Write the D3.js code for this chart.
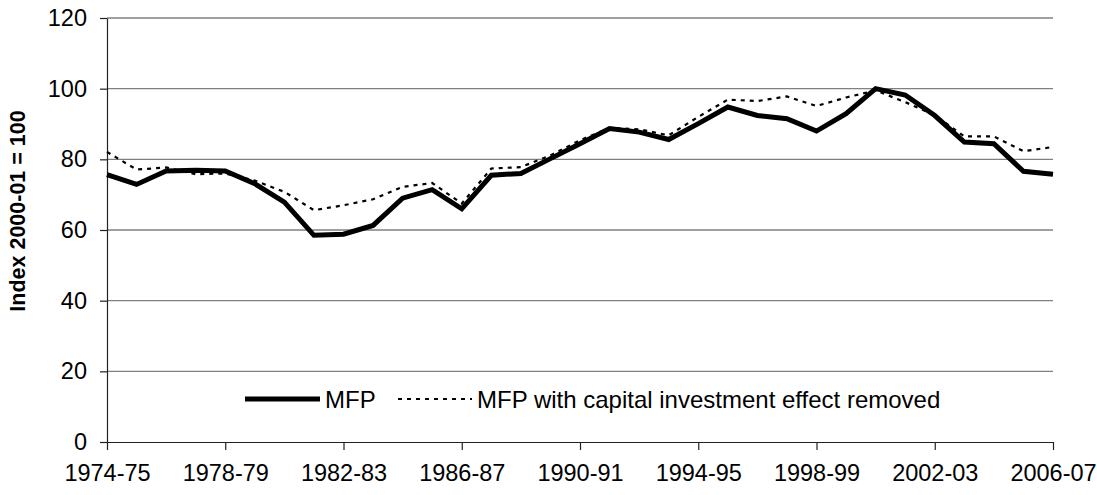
<!DOCTYPE html>
<html>
<head>
<meta charset="utf-8">
<script src="https://cdn.jsdelivr.net/npm/d3@7"></script>
<style>
  html, body { margin: 0; padding: 0; background: #fff; }
  svg { display: block; font-family: "Liberation Sans", Arial, sans-serif; }
</style>
</head>
<body>
<svg id="chart" width="1097" height="495"></svg>
<script>
const years = ["1974-75","1975-76","1976-77","1977-78","1978-79","1979-80","1980-81","1981-82","1982-83","1983-84",
  "1984-85","1985-86","1986-87","1987-88","1988-89","1989-90","1990-91","1991-92","1992-93","1993-94",
  "1994-95","1995-96","1996-97","1997-98","1998-99","1999-00","2000-01","2001-02","2002-03","2003-04",
  "2004-05","2005-06","2006-07"];
const mfp = [75.7, 72.9, 76.7, 76.9, 76.7, 73.1, 67.9, 58.5, 58.8, 61.3,
  69.0, 71.4, 66.0, 75.5, 76.0, 80.2, 84.4, 88.7, 87.7, 85.6,
  90.1, 94.8, 92.4, 91.5, 88.0, 92.9, 100.0, 98.2, 92.4, 84.9,
  84.4, 76.6, 75.8];
const mfpAdj = [82.1, 77.1, 77.7, 75.8, 76.0, 74.0, 70.8, 65.6, 67.0, 68.7,
  72.2, 73.3, 67.5, 77.4, 77.8, 81.1, 85.4, 88.9, 88.5, 86.8,
  92.0, 96.9, 96.5, 97.8, 95.1, 97.5, 99.5, 96.2, 92.5, 86.5,
  86.5, 82.3, 83.5];
const yTicks = [0, 20, 40, 60, 80, 100, 120];
const xTickLabels = ["1974-75","1978-79","1982-83","1986-87","1990-91","1994-95","1998-99","2002-03","2006-07"];
const seriesNames = ["MFP", "MFP with capital investment effect removed"];

const FONT = 23.5;
const svg = d3.select("#chart");
const mLeft = 107, mRight = 1053, mTop = 18, mBottom = 442;

const x = d3.scalePoint().domain(years).range([mLeft, mRight]);
const y = d3.scaleLinear().domain([0, 120]).range([mBottom, mTop]);

// gridlines
svg.append("g").selectAll("line").data(yTicks.filter(d => d > 0)).join("line")
  .attr("x1", mLeft).attr("x2", mRight)
  .attr("y1", d => y(d)).attr("y2", d => y(d))
  .attr("stroke", "#808080").attr("stroke-width", 1.3);

// y axis
const yAxis = svg.append("g").attr("transform", `translate(${mLeft},0)`)
  .call(d3.axisLeft(y).tickValues(yTicks).tickSize(7).tickSizeOuter(0).tickPadding(13));
yAxis.select(".domain").attr("stroke", "#222").attr("stroke-width", 1.2);
yAxis.selectAll(".tick line").attr("stroke", "#222").attr("stroke-width", 1.2);
yAxis.selectAll("text").attr("font-size", FONT).attr("fill", "#000")
  .attr("font-family", "'Liberation Sans', Arial, sans-serif");

// x axis
const xAxis = svg.append("g").attr("transform", `translate(0,${mBottom})`)
  .call(d3.axisBottom(x).tickValues(xTickLabels).tickSize(8).tickSizeOuter(0).tickPadding(14));
xAxis.select(".domain").attr("stroke", "#222").attr("stroke-width", 1.2);
xAxis.selectAll(".tick line").attr("stroke", "#222").attr("stroke-width", 1.2);
xAxis.selectAll("text").attr("font-size", FONT).attr("fill", "#000")
  .attr("font-family", "'Liberation Sans', Arial, sans-serif");

// y label
svg.append("text")
  .attr("transform", `translate(25,${211}) rotate(-90)`)
  .attr("text-anchor", "middle")
  .attr("font-size", 21.5).attr("font-weight", "bold")
  .text("Index 2000-01 = 100");

const line = d3.line().x((d, i) => x(years[i])).y(d => y(d));

svg.append("path").datum(mfpAdj)
  .attr("fill", "none").attr("stroke", "#000").attr("stroke-width", 2.2)
  .attr("stroke-dasharray", "4,5")
  .attr("d", line);

svg.append("path").datum(mfp)
  .attr("fill", "none").attr("stroke", "#000").attr("stroke-width", 5)
  .attr("stroke-linejoin", "miter")
  .attr("d", line);

// legend
const legY = 399;
const leg = svg.append("g");
leg.append("line").attr("x1", 245).attr("x2", 320).attr("y1", legY).attr("y2", legY)
  .attr("stroke", "#000").attr("stroke-width", 5);
leg.append("text").attr("x", 325).attr("y", legY + 8.5).attr("font-size", 24).text(seriesNames[0]);
leg.append("line").attr("x1", 398).attr("x2", 472).attr("y1", legY).attr("y2", legY)
  .attr("stroke", "#000").attr("stroke-width", 2.2).attr("stroke-dasharray", "4,5");
leg.append("text").attr("x", 477).attr("y", legY + 8.5).attr("font-size", 24).text(seriesNames[1]);
</script>
</body>
</html>
